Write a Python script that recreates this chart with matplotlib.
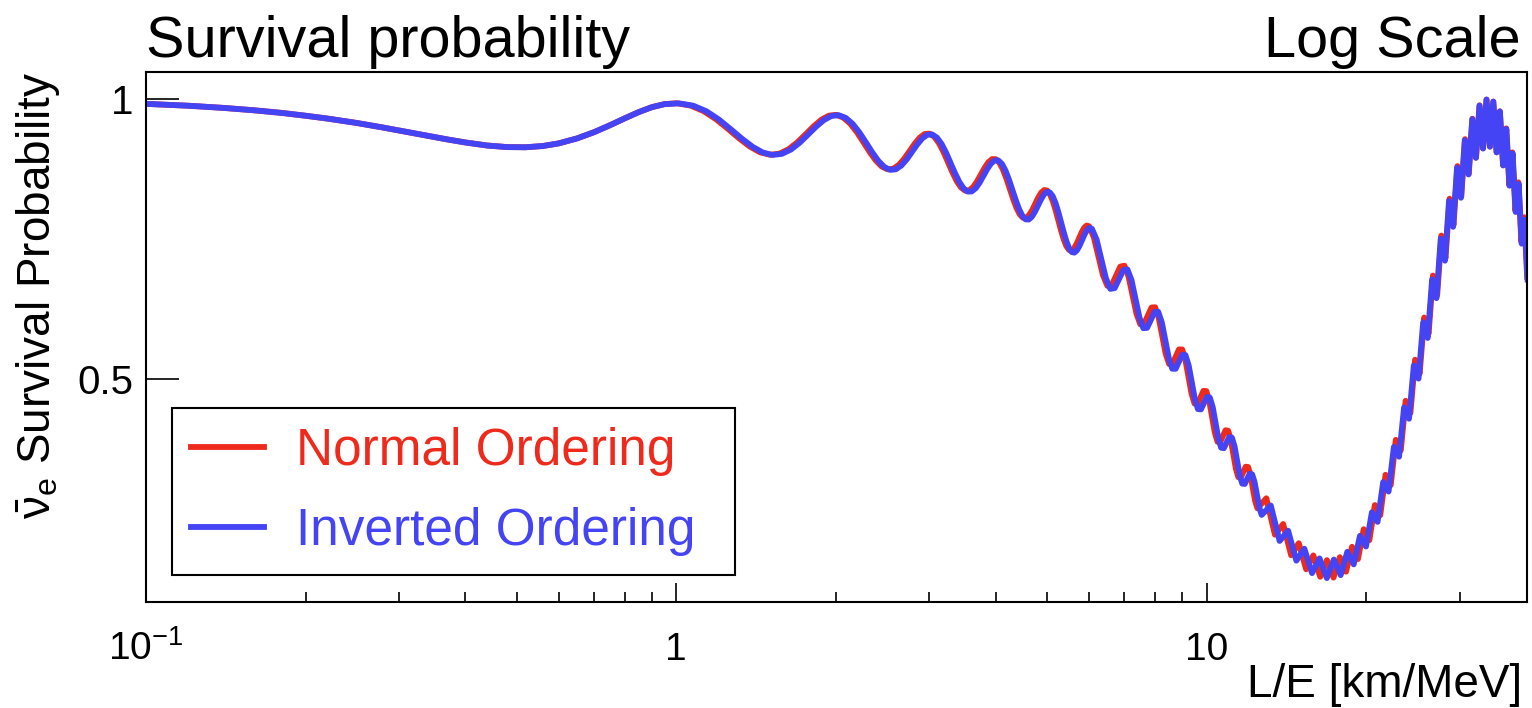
import matplotlib
matplotlib.use('Agg')
import matplotlib.pyplot as plt
from matplotlib.ticker import FixedLocator, NullFormatter, NullLocator

plt.rcParams['font.family'] = ['Liberation Sans', 'DejaVu Sans']
plt.rcParams['mathtext.fontset'] = 'custom'
plt.rcParams['mathtext.rm'] = 'Liberation Sans'
plt.rcParams['mathtext.it'] = 'Liberation Sans'
plt.rcParams['mathtext.bf'] = 'Liberation Sans:bold'

# ---------------- data ----------------
# common part below L/E = 1 km/MeV (both orderings coincide there)
le_low = [0.10, 0.12, 0.14, 0.16, 0.18, 0.20, 0.22, 0.25, 0.28, 0.31, 0.34, 0.37, 0.40,
          0.44, 0.48, 0.52, 0.56, 0.60, 0.65, 0.70, 0.75, 0.80, 0.85, 0.90, 0.95]
p_low = [.9919, .9886, .9847, .9804, .9758, .9707, .9656, .9577, .9496, .9419, .9348, .9284, .9230,
         .9175, .9147, .9144, .9166, .9213, .9302, .9414, .9538, .9662, .9773, .9861, .9914]

# Normal ordering, 1 - 6 km/MeV
le_no_a = [1.001, 1.0635, 1.126, 1.1885, 1.251, 1.3135, 1.376, 1.439, 1.502, 1.5645, 1.627, 1.6895,
           1.752, 1.8145, 1.877, 1.9395, 2.002, 2.0645, 2.127, 2.1895, 2.252, 2.3145, 2.377, 2.4395,
           2.502, 2.565, 2.628, 2.6905, 2.753, 2.8155, 2.878, 2.9405, 3.003, 3.0655, 3.128, 3.1905,
           3.253, 3.3155, 3.378, 3.4405, 3.503, 3.5655, 3.628, 3.6905, 3.753, 3.8155, 3.878, 3.9405,
           4.003, 4.0655, 4.128, 4.1905, 4.253, 4.3155, 4.378, 4.4405, 4.503, 4.5655, 4.628, 4.6905,
           4.753, 4.8155, 4.878, 4.9405, 5.003, 5.0655, 5.128, 5.1905, 5.253, 5.3155, 5.378, 5.4405,
           5.503, 5.5655, 5.628, 5.6905, 5.753, 5.8155, 5.878, 5.9405, 6.003]
p_no_a = [.9930, .9889, .9790, .9644, .9474, .9303, .9157, .9054, .9010, .9029, .9107, .9227,
          .9372, .9516, .9635, .9708, .9723, .9675, .9568, .9416, .9239, .9063, .8910, .8801,
          .8750, .8760, .8828, .8939, .9074, .9207, .9316, .9381, .9387, .9332, .9218, .9061,
          .8880, .8700, .8543, .8429, .8371, .8373, .8432, .8533, .8657, .8779, .8878, .8933,
          .8931, .8870, .8752, .8592, .8409, .8227, .8067, .7949, .7886, .7882, .7933, .8023,
          .8136, .8247, .8335, .8380, .8371, .8305, .8184, .8024, .7841, .7659, .7498, .7378,
          .7311, .7301, .7343, .7424, .7527, .7628, .7707, .7746, .7733]
# Normal ordering, 6 - 12.4 km/MeV
le_no_b = [6.127, 6.251, 6.376, 6.501, 6.626, 6.751, 6.8755, 7.000, 7.125, 7.250, 7.3745, 7.499,
           7.624, 7.749, 7.8735, 7.998, 8.1225, 8.247, 8.372, 8.497, 8.6215, 8.746, 8.8705, 8.995,
           9.1195, 9.244, 9.3685, 9.493, 9.6175, 9.742, 9.866, 9.990, 10.114, 10.238, 10.3625,
           10.487, 10.611, 10.735, 10.859, 10.983, 11.107, 11.231, 11.355, 11.479, 11.6025,
           11.726, 11.85, 11.974, 12.0974, 12.2208, 12.3447]
p_no_b = [.7542, .7199, .6860, .6669, .6686, .6852, .7013, .7029, .6838, .6502, .6172, .5982,
          .5991, .6140, .6282, .6287, .6099, .5774, .5458, .5274, .5275, .5407, .5534, .5532,
          .5351, .5042, .4742, .4565, .4562, .4681, .4794, .4789, .4619, .4330, .4050,
          .3884, .3880, .3989, .4090, .4082, .3925, .3660, .3404, .3252, .3247,
          .3345, .3439, .3434, .3295, .3058, .2830]
# Normal ordering, 12.4 - 40 km/MeV (fast wiggles: turning points)
le_no_c = [12.469, 12.962, 13.454, 13.945, 14.434, 14.922, 15.410, 15.895, 16.381, 16.865, 17.349,
           17.834, 18.319, 18.806, 19.293, 19.782, 20.272, 20.764, 21.257, 21.750, 22.245, 22.740,
           23.236, 23.732, 24.230, 24.727, 25.226, 25.724, 26.223, 26.722, 27.221, 27.720, 28.220,
           28.720, 29.219, 29.719, 30.220, 30.720, 31.220, 31.720, 32.221, 32.721, 33.221, 33.722,
           34.222, 34.723, 35.223, 35.723, 36.224, 36.724, 37.224, 37.724, 38.224, 38.724, 39.224,
           39.724, 40.224]
p_no_c = [.2696, .2875, .2225, .2416, .1859, .2073, .1607, .1855, .1473, .1771, .1459,
          .1823, .1564, .2009, .1789, .2323, .2127, .2754, .2573, .3295, .3111, .3919,
          .3729, .4616, .4397, .5350, .5101, .6104, .5812, .6853, .6508, .7567, .7162,
          .8225, .7755, .8807, .8263, .9289, .8668, .9654, .8960, .9892, .9124, .9996,
          .9156, .9960, .9054, .9787, .8825, .9481, .8473, .9052, .8012, .8518, .7458,
          .7894, .6829]

# Inverted ordering, 1 - 6 km/MeV
le_io_a = [1.012, 1.0755, 1.139, 1.202, 1.265, 1.3285, 1.392, 1.455, 1.518, 1.5815, 1.645, 1.708,
           1.771, 1.8345, 1.898, 1.961, 2.024, 2.0875, 2.151, 2.2145, 2.278, 2.341, 2.404, 2.4675,
           2.531, 2.594, 2.657, 2.7205, 2.784, 2.847, 2.910, 2.9735, 3.037, 3.1005, 3.164, 3.227,
           3.290, 3.3535, 3.417, 3.48, 3.543, 3.6065, 3.670, 3.733, 3.796, 3.8595, 3.923, 3.9865,
           4.050, 4.113, 4.176, 4.2395, 4.303, 4.3665, 4.430, 4.493, 4.556, 4.6195, 4.683, 4.7465,
           4.810, 4.873, 4.936, 4.9995, 5.063, 5.1265, 5.190, 5.253, 5.316, 5.3795, 5.443, 5.5065,
           5.570, 5.633, 5.696, 5.7595, 5.823, 5.8865, 5.950, 6.0135, 6.077]
p_io_a = [.9928, .9887, .9788, .9642, .9471, .9300, .9154, .9051, .9007, .9026, .9103, .9224,
          .9368, .9511, .9630, .9703, .9717, .9668, .9561, .9408, .9231, .9054, .8901, .8792,
          .8740, .8750, .8818, .8929, .9063, .9195, .9303, .9367, .9373, .9317, .9203, .9046,
          .8864, .8683, .8526, .8412, .8353, .8355, .8413, .8513, .8637, .8758, .8855, .8910,
          .8908, .8846, .8728, .8567, .8383, .8200, .8039, .7921, .7857, .7853, .7903, .7993,
          .8104, .8214, .8302, .8347, .8337, .8270, .8148, .7987, .7804, .7621, .7460, .7340,
          .7272, .7262, .7304, .7384, .7486, .7587, .7666, .7704, .7689]
# Inverted ordering, 6 - 12.6 km/MeV
le_io_b = [6.2035, 6.330, 6.457, 6.584, 6.7105, 6.837, 6.964, 7.091, 7.218, 7.345, 7.4715, 7.598,
           7.725, 7.852, 7.979, 8.106, 8.2335, 8.361, 8.488, 8.615, 8.742, 8.869, 8.996, 9.123,
           9.2505, 9.378, 9.505, 9.632, 9.7595, 9.887, 10.0145, 10.142, 10.2695, 10.397, 10.524,
           10.651, 10.779, 10.907, 11.035, 11.163, 11.291, 11.419, 11.5465, 11.674, 11.802,
           11.930, 12.0585, 12.187, 12.3155, 12.444, 12.5725]
p_io_b = [.7494, .7146, .6807, .6615, .6629, .6791, .6949, .6963, .6771, .6435, .6104, .5913,
          .5919, .6064, .6203, .6205, .6016, .5691, .5375, .5189, .5188, .5316, .5437, .5432,
          .5251, .4944, .4646, .4468, .4463, .4578, .4684, .4674, .4504, .4219, .3944,
          .3778, .3770, .3873, .3968, .3958, .3802, .3540, .3288, .3137, .3131,
          .3225, .3312, .3303, .3166, .2933, .2711]
# Inverted ordering, 12.6 - 40 km/MeV (fast wiggles: turning points)
le_io_c = [12.701, 13.215, 13.731, 14.248, 14.767, 15.287, 15.809, 16.331, 16.855, 17.378, 17.900,
           18.423, 18.943, 19.463, 19.980, 20.497, 21.012, 21.527, 22.040, 22.552, 23.063, 23.573,
           24.084, 24.593, 25.101, 25.610, 26.118, 26.625, 27.133, 27.640, 28.147, 28.654, 29.161,
           29.667, 30.174, 30.680, 31.186, 31.692, 32.199, 32.705, 33.211, 33.717, 34.223, 34.729,
           35.235, 35.741, 36.248, 36.754, 37.260, 37.766, 38.273, 38.780, 39.286, 39.793, 40.300]
p_io_c = [.2578, .2746, .2113, .2296, .1761, .1975, .1539, .1801, .1451, .1781, .1503,
          .1919, .1695, .2204, .2014, .2625, .2454, .3164, .2996, .3792, .3617, .4498,
          .4296, .5246, .5012, .6017, .5738, .6782, .6449, .7510, .7118, .8184, .7723,
          .8779, .8242, .9270, .8658, .9645, .8955, .9889, .9122, .9996, .9155, .9959,
          .9052, .9782, .8818, .9469, .8457, .9032, .7988, .8485, .7422, .7848, .6782]

series_labels = ['Normal Ordering', 'Inverted Ordering']
x_major = [0.1, 1, 10]
x_major_labels = [r'$10^{-1}$', '1', '10']
x_minor = [0.2, 0.3, 0.4, 0.5, 0.6, 0.7, 0.8, 0.9, 2, 3, 4, 5, 6, 7, 8, 9, 20, 30]
y_major = [0.5, 1]
y_major_labels = ['0.5', '1']

RED = '#ee2a1c'
BLUE = '#4444f4'

# ---------------- figure ----------------
fig = plt.figure(figsize=(15.32, 7.08), dpi=100)
ax = fig.add_axes([146 / 1532, 106 / 708, 1381 / 1532, 530 / 708])

ax.plot(le_low + le_no_a + le_no_b + le_no_c, p_low + p_no_a + p_no_b + p_no_c,
        color=RED, lw=4.2, solid_joinstyle='round', label=series_labels[0])
ax.plot(le_low + le_io_a + le_io_b + le_io_c, p_low + p_io_a + p_io_b + p_io_c,
        color=BLUE, lw=4.2, solid_joinstyle='round', label=series_labels[1])

ax.set_xscale('log')
ax.set_xlim(0.1, 40.2)
ax.set_ylim(0.1023, 1.0488)

ax.xaxis.set_major_locator(FixedLocator(x_major))
ax.xaxis.set_minor_locator(FixedLocator(x_minor))
ax.xaxis.set_minor_formatter(NullFormatter())
ax.set_xticklabels(x_major_labels, va='baseline')
ax.yaxis.set_major_locator(FixedLocator(y_major))
ax.yaxis.set_minor_locator(NullLocator())
ax.set_yticklabels(y_major_labels)

ax.tick_params(axis='x', which='major', direction='in', length=13.5, width=1.2,
               labelsize=28, pad=42, top=False)
ax.tick_params(axis='x', which='minor', direction='in', length=7, width=1.2, top=False)
ax.tick_params(axis='y', which='major', direction='in', length=24, width=1.2,
               labelsize=29, pad=9, right=False)
for sp in ax.spines.values():
    sp.set_linewidth(1.5)

fig.text(146 / 1532, 1 - 57 / 708, 'Survival probability', fontsize=41.5,
         ha='left', va='baseline')
fig.text(1521 / 1532, 1 - 57 / 708, 'Log Scale', fontsize=41.5, ha='right', va='baseline')
fig.text(1522 / 1532, 1 - 697 / 708, 'L/E [km/MeV]', fontsize=33, ha='right', va='baseline')
fig.text(0.025, 1 - 72 / 708, r'$\bar{\nu}_{e}$ Survival Probability', rotation=90,
         fontsize=33, ha='center', va='top')

leg = ax.legend(loc='upper left',
                bbox_to_anchor=(172 / 1532, 1 - 570 / 708, (735 - 172) / 1532, (570 - 408) / 708),
                bbox_transform=fig.transFigure, mode='expand', fontsize=37,
                labelcolor='linecolor', frameon=True, fancybox=False, framealpha=1,
                edgecolor='black', handlelength=1.42, handletextpad=0.62,
                labelspacing=0.61, borderpad=0.365, borderaxespad=0)
leg.get_frame().set_linewidth(1.5)

fig.savefig('out.png', dpi=100)
